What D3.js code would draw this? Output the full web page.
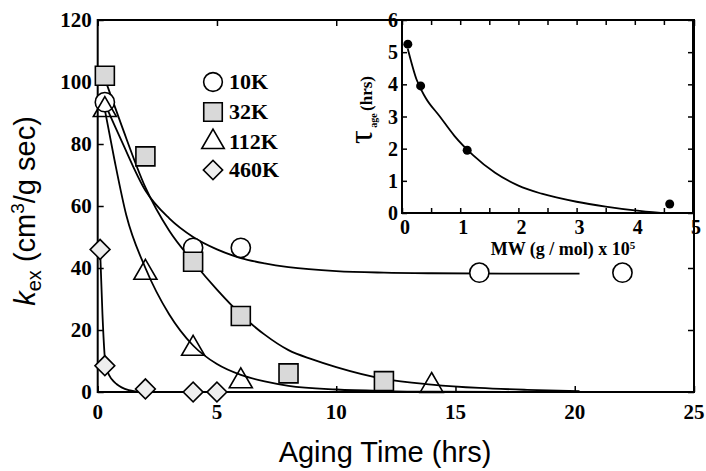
<!DOCTYPE html>
<html>
<head>
<meta charset="utf-8">
<script src="https://cdn.jsdelivr.net/npm/d3@7"></script>
<style>
  html, body { margin: 0; padding: 0; background: #fff; }
  svg { display: block; }
</style>
</head>
<body>
<svg id="chart" width="706" height="471"></svg>
<script>
// ---------- data ----------
const seriesNames = ["10K", "32K", "112K", "460K"];

// measured points (aging time in hrs, k_ex)
const t10K = [0.3, 4, 6, 16, 22];
const k10K = [93.5, 46.5, 46.5, 38.5, 38.5];
const t32K = [0.3, 2, 4, 6, 8, 12];
const k32K = [102, 76, 42, 24.5, 6, 3.5];
const t112K = [0.3, 2, 4, 6, 14];
const k112K = [91, 38.5, 14, 3.5, 2];
const t460K = [0.1, 0.3, 2, 4, 5];
const k460K = [46, 8.5, 1, 0, 0];

// fitted curves
const fit10K_t = [0.3, 1, 2, 3, 4, 5, 6, 7, 8, 10, 12, 14, 17, 20.2];
const fit10K_k = [93, 81, 65, 56, 50, 46, 43.2, 41.5, 40.3, 39, 38.5, 38.3, 38.2, 38.2];
const fit32K_t = [0.3, 1, 2, 3, 4, 5, 6, 7, 8, 9, 10, 12, 14, 16, 18, 20.2];
const fit32K_k = [101, 86, 66, 52, 42, 33, 25, 18.5, 13.5, 10.5, 8, 4.2, 2.4, 1.3, 0.7, 0.3];
const fit112K_t = [0.3, 0.7, 1.2, 2, 3, 4, 5, 6, 7, 8, 10, 12, 14, 20.2];
const fit112K_k = [91, 75, 57, 40, 25, 15, 9, 5.5, 3.4, 2, 0.8, 0.3, 0.1, 0];
const fit460K_t = [0.1, 0.2, 0.3, 0.4, 0.6, 0.8, 1.0, 1.3, 1.6, 2, 5, 10, 20.2];
const fit460K_k = [46, 25, 11, 7, 4, 2.5, 1.5, 0.6, 0.2, 0, 0, 0, 0];

// inset: molecular weight (x 10^5 g/mol) vs tau_age (hrs)
const mw = [0.1, 0.32, 1.12, 4.6];
const tauAge = [5.25, 3.95, 1.95, 0.28];
const fitMW = [0.1, 0.25, 0.4, 0.65, 0.9, 1.22, 1.6, 2.0, 2.4, 3.0, 3.5, 4.0, 4.45];
const fitTau = [5.1, 4.15, 3.6, 3.0, 2.4, 1.8, 1.25, 0.85, 0.6, 0.35, 0.2, 0.08, 0];

// ticks
const xTicksMain = [0, 5, 10, 15, 20, 25];
const yTicksMain = [0, 20, 40, 60, 80, 100, 120];
const xTicksInset = [0, 1, 2, 3, 4, 5];
const yTicksInset = [0, 1, 2, 3, 4, 5, 6];

// ---------- drawing ----------
const svg = d3.select("#chart");
const serif = "Liberation Serif";
const sans = "Liberation Sans";

const x = d3.scaleLinear().domain([0, 25]).range([97.7, 694]);
const y = d3.scaleLinear().domain([0, 120]).range([392, 20]);
const xi = d3.scaleLinear().domain([0, 5]).range([402, 693]);
const yi = d3.scaleLinear().domain([0, 6]).range([213, 20]);

function styleAxis(g) {
  g.select(".domain").remove();
  g.selectAll(".tick line").attr("stroke", "#000").attr("stroke-width", 1.5);
  g.selectAll(".tick text").remove();
}
function labels(parent, vals, fx, fy, anchor, size) {
  parent.append("g").selectAll("text").data(vals).join("text")
    .attr("x", fx).attr("y", fy)
    .attr("text-anchor", anchor)
    .attr("dominant-baseline", "central")
    .style("font-family", serif).style("font-weight", "bold")
    .style("font-size", size + "px").style("fill", "#000")
    .text(d => d);
}

// main axes (tick marks)
svg.append("g").attr("transform", `translate(0,${y(0)})`)
  .call(d3.axisBottom(x).tickValues(xTicksMain).tickSize(-6)).call(styleAxis);
svg.append("g").attr("transform", `translate(${x(0)},0)`)
  .call(d3.axisLeft(y).tickValues(yTicksMain).tickSize(-6)).call(styleAxis);
svg.append("g").attr("transform", `translate(${x(25)},0)`)
  .call(d3.axisRight(y).tickValues(yTicksMain).tickSize(-6)).call(styleAxis);
svg.append("g").attr("transform", `translate(0,${y(120)})`)
  .call(d3.axisTop(x).tickValues(xTicksMain).tickSize(-6)).call(styleAxis);

// main tick labels
labels(svg, xTicksMain, d => x(d), y(0) + 20, "middle", 21);
labels(svg, yTicksMain, x(0) - 6, d => y(d), "end", 21);

// main frame
svg.append("rect")
  .attr("x", x(0)).attr("y", y(120))
  .attr("width", x(25) - x(0)).attr("height", y(0) - y(120))
  .attr("fill", "none").attr("stroke", "#000").attr("stroke-width", 2);

// curves
const line = d3.line().x(d => x(d[0])).y(d => y(d[1])).curve(d3.curveMonotoneX);
const fits = [
  d3.zip(fit10K_t, fit10K_k),
  d3.zip(fit32K_t, fit32K_k),
  d3.zip(fit112K_t, fit112K_k),
  d3.zip(fit460K_t, fit460K_k)
];
svg.append("g").selectAll("path").data(fits).join("path")
  .attr("d", line).attr("fill", "none").attr("stroke", "#000").attr("stroke-width", 1.8);

// markers
const symbolDefs = [
  { type: d3.symbolCircle, size: 290, fill: "#fff", rot: 0, op: 1 },
  { type: d3.symbolSquare, size: 361, fill: "#d9d9d9", rot: 0, op: 1 },
  { type: d3.symbolTriangle, size: 230, fill: "#fff", rot: 0, op: 0 },
  { type: d3.symbolSquare, size: 196, fill: "#eeeeee", rot: 45, op: 1 }
];
const pts = [
  d3.zip(t10K, k10K),
  d3.zip(t32K, k32K),
  d3.zip(t112K, k112K),
  d3.zip(t460K, k460K)
];
pts.forEach((p, i) => {
  const s = symbolDefs[i];
  svg.append("g").selectAll("path").data(p).join("path")
    .attr("d", d3.symbol().type(s.type).size(s.size))
    .attr("transform", d => `translate(${x(d[0])},${y(d[1])}) rotate(${s.rot})`)
    .attr("fill", s.fill).attr("fill-opacity", s.op)
    .attr("stroke", "#000").attr("stroke-width", 1.6);
});

// legend
const legendY = [82, 112, 142, 170];
const leg = svg.append("g");
seriesNames.forEach((name, i) => {
  const s = symbolDefs[i];
  leg.append("path")
    .attr("d", d3.symbol().type(s.type).size(s.size * 0.95))
    .attr("transform", `translate(213,${legendY[i]}) rotate(${s.rot})`)
    .attr("fill", s.fill).attr("stroke", "#000").attr("stroke-width", 1.6);
  leg.append("text").attr("x", 229).attr("y", legendY[i] + 7)
    .style("font-family", serif).style("font-weight", "bold").style("font-size", "22px")
    .text(name);
});

// axis titles
const yt = svg.append("text")
  .attr("transform", "translate(35,211) rotate(-90)")
  .attr("text-anchor", "middle")
  .style("font-family", sans).style("font-size", "29px").style("fill", "#000");
yt.append("tspan").style("font-style", "italic").text("k");
yt.append("tspan").style("font-size", "20px").attr("dy", 6).text("ex");
yt.append("tspan").attr("dy", -6).text(" (cm");
yt.append("tspan").style("font-size", "19px").attr("dy", -11).text("3");
yt.append("tspan").attr("dy", 11).text("/g sec)");

svg.append("text").attr("x", 385).attr("y", 462)
  .attr("text-anchor", "middle")
  .style("font-family", sans).style("font-size", "29px").style("fill", "#000")
  .text("Aging Time (hrs)");

// ---------- inset ----------
const inset = svg.append("g");
inset.append("rect")
  .attr("x", xi(0)).attr("y", yi(6))
  .attr("width", xi(5) - xi(0)).attr("height", yi(0) - yi(6))
  .attr("fill", "#fff").attr("stroke", "none");

inset.append("g").attr("transform", `translate(0,${yi(0)})`)
  .call(d3.axisBottom(xi).ticks(10).tickSize(-5)).call(styleAxis);
inset.append("g").attr("transform", `translate(0,${yi(6)})`)
  .call(d3.axisTop(xi).ticks(10).tickSize(-5)).call(styleAxis);
inset.append("g").attr("transform", `translate(${xi(0)},0)`)
  .call(d3.axisLeft(yi).tickValues(yTicksInset).tickSize(-5)).call(styleAxis);
inset.append("g").attr("transform", `translate(${xi(5)},0)`)
  .call(d3.axisRight(yi).tickValues(yTicksInset).tickSize(-5)).call(styleAxis);

labels(inset, xTicksInset, d => xi(d) + 3, yi(0) + 14, "middle", 20);
labels(inset, yTicksInset, xi(0) - 4, d => yi(d), "end", 20);

inset.append("path")
  .attr("d", `M${xi(0)},${yi(6)}V${yi(0)}H${xi(5)}V${yi(6)}Z`)
  .attr("fill", "none").attr("stroke", "#000").attr("stroke-width", 2);

const lineIn = d3.line().x(d => xi(d[0])).y(d => yi(d[1])).curve(d3.curveMonotoneX);
inset.append("path").datum(d3.zip(fitMW, fitTau))
  .attr("d", lineIn).attr("fill", "none").attr("stroke", "#000").attr("stroke-width", 1.8);
inset.append("g").selectAll("circle").data(d3.zip(mw, tauAge)).join("circle")
  .attr("cx", d => xi(d[0])).attr("cy", d => yi(d[1])).attr("r", 4.5).attr("fill", "#000");

const it = inset.append("text")
  .attr("transform", "translate(372,110) rotate(-90)")
  .attr("text-anchor", "middle")
  .style("font-family", serif).style("fill", "#000");
it.append("tspan").style("font-size", "34px").text("τ");
it.append("tspan").style("font-size", "10px").style("font-weight", "bold").attr("dy", 5).text(" age ");
it.append("tspan").style("font-size", "17px").style("font-weight", "bold").attr("dy", -5).text("(hrs)");

const xt = inset.append("text").attr("x", 563).attr("y", 255)
  .attr("text-anchor", "middle")
  .style("font-family", serif).style("font-weight", "bold").style("font-size", "18px").style("fill", "#000");
xt.append("tspan").text("MW (g / mol) x 10");
xt.append("tspan").style("font-size", "11px").attr("dy", -6).text("5");
</script>
</body>
</html>
